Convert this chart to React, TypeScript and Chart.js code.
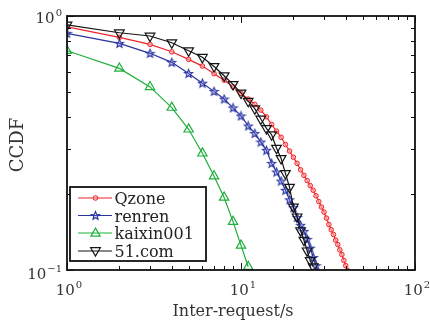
import React, { useEffect, useRef } from "react";
import { Chart, registerables } from "chart.js";

Chart.register(...registerables);

// ---- data ----
const seriesNames = ["Qzone", "renren", "kaixin001", "51.com"];

const qzoneX = [1, 2, 3, 4, 5, 6, 7, 8, 9, 10, 11, 12, 13, 14, 15, 16, 17, 18, 19, 20, 21, 22, 23, 24, 25, 26, 27, 28, 29, 30, 31, 32, 33, 34, 35, 36, 37, 38, 39, 40, 41];
const qzoneY = [0.907, 0.824, 0.773, 0.723, 0.675, 0.635, 0.593, 0.559, 0.526, 0.496, 0.471, 0.449, 0.426, 0.401, 0.374, 0.352, 0.333, 0.312, 0.294, 0.278, 0.263, 0.248, 0.236, 0.225, 0.215, 0.206, 0.196, 0.186, 0.177, 0.169, 0.160, 0.151, 0.144, 0.138, 0.131, 0.126, 0.120, 0.115, 0.109, 0.104, 0.0996];

const renrenX = [1, 2, 3, 4, 5, 6, 7, 8, 9, 10, 11, 12, 13, 14, 15, 16, 17, 18, 19, 20, 21, 22, 23, 24, 25, 26, 27, 28];
const renrenY = [0.855, 0.780, 0.713, 0.657, 0.594, 0.544, 0.505, 0.471, 0.435, 0.404, 0.369, 0.345, 0.319, 0.296, 0.263, 0.243, 0.224, 0.206, 0.189, 0.176, 0.161, 0.150, 0.142, 0.132, 0.122, 0.112, 0.104, 0.097];

const kaixinX = [1, 2, 3, 4, 5, 6, 7, 8, 9, 10, 11];
const kaixinY = [0.730, 0.622, 0.526, 0.436, 0.358, 0.288, 0.234, 0.193, 0.155, 0.125, 0.103];

const c51X = [1, 2, 3, 4, 5, 6, 7, 8, 9, 10, 11, 12, 13, 14, 15, 16, 17, 18, 19, 20, 21, 22, 23, 24, 25, 26];
const c51Y = [0.922, 0.859, 0.834, 0.785, 0.730, 0.688, 0.633, 0.582, 0.538, 0.498, 0.462, 0.432, 0.393, 0.361, 0.341, 0.302, 0.275, 0.240, 0.212, 0.177, 0.162, 0.143, 0.131, 0.119, 0.109, 0.103];

const xMajorTicks = [1, 10, 100];
const xMajorExp = ["0", "1", "2"];
const xMinorTicks = [2, 3, 4, 5, 6, 7, 8, 9, 20, 30, 40, 50, 60, 70, 80, 90];
const yMajorTicks = [0.1, 1];
const yMajorExp = ["\u22121", "0"];
const yMinorTicks = [0.2, 0.3, 0.4, 0.5, 0.6, 0.7, 0.8, 0.9];

const xTitle = "Inter-request/s";
const yTitle = "CCDF";

const RED = "rgb(240,35,40)";
const BLUE = "rgb(40,50,160)";
const GREEN = "rgb(30,175,60)";
const BLACK = "rgb(20,20,20)";

const FONT = "'DejaVu Serif', serif";

function makeStar(color: string): HTMLCanvasElement {
  const c = document.createElement("canvas");
  c.width = 11;
  c.height = 11;
  const g = c.getContext("2d")!;
  g.strokeStyle = color;
  g.fillStyle = "rgba(120,130,220,0.3)";
  g.lineWidth = 1.1;
  g.beginPath();
  for (let i = 0; i < 10; i++) {
    const r = i % 2 === 0 ? 4.3 : 1.9;
    const ang = -Math.PI / 2 + (i * Math.PI) / 5;
    const px = 5.5 + Math.cos(ang) * r;
    const py = 5.8 + Math.sin(ang) * r;
    if (i === 0) g.moveTo(px, py);
    else g.lineTo(px, py);
  }
  g.closePath();
  g.fill();
  g.stroke();
  return c;
}

function drawTri(ctx: CanvasRenderingContext2D, x: number, y: number, r: number, rot: number, color: string) {
  ctx.beginPath();
  for (let i = 0; i < 3; i++) {
    const a = rot + (i * 2 * Math.PI) / 3;
    const px = x + Math.sin(a) * r;
    const py = y - Math.cos(a) * r;
    if (i === 0) ctx.moveTo(px, py);
    else ctx.lineTo(px, py);
  }
  ctx.closePath();
  ctx.strokeStyle = color;
  ctx.lineWidth = 1.2;
  ctx.stroke();
}

function drawPow(ctx: CanvasRenderingContext2D, exp: string, x: number, y: number, align: "center" | "right") {
  ctx.font = `15px ${FONT}`;
  const wb = ctx.measureText("10").width;
  ctx.font = `10px ${FONT}`;
  const we = ctx.measureText(exp).width;
  const total = wb + 1 + we;
  const start = align === "center" ? x - total / 2 : x - total;
  ctx.textAlign = "left";
  ctx.textBaseline = "alphabetic";
  ctx.fillStyle = "#333";
  ctx.font = `15px ${FONT}`;
  ctx.fillText("10", start, y);
  ctx.font = `10px ${FONT}`;
  ctx.fillText(exp, start + wb + 1, y - 7);
}

export default function App() {
  const ref = useRef<HTMLCanvasElement | null>(null);

  useEffect(() => {
    if (!ref.current) return;
    const star = makeStar(BLUE);

    const overlay = {
      id: "matlabFrame",
      afterDatasetsDraw(chart: any) {
        const ctx: CanvasRenderingContext2D = chart.ctx;
        const a = chart.chartArea;
        const xs = chart.scales.x;
        const ys = chart.scales.y;
        ctx.save();
        ctx.strokeStyle = "#111";
        ctx.lineWidth = 1;
        const xt = (v: number, len: number) => {
          const px = Math.round(xs.getPixelForValue(v)) + 0.5;
          ctx.beginPath();
          ctx.moveTo(px, a.bottom);
          ctx.lineTo(px, a.bottom - len);
          ctx.moveTo(px, a.top);
          ctx.lineTo(px, a.top + len);
          ctx.stroke();
        };
        const yt = (v: number, len: number) => {
          const py = Math.round(ys.getPixelForValue(v)) + 0.5;
          ctx.beginPath();
          ctx.moveTo(a.left, py);
          ctx.lineTo(a.left + len, py);
          ctx.moveTo(a.right, py);
          ctx.lineTo(a.right - len, py);
          ctx.stroke();
        };
        xMinorTicks.forEach((v) => xt(v, 4));
        xMajorTicks.forEach((v) => xt(v, 7));
        yMinorTicks.forEach((v) => yt(v, 4));
        yMajorTicks.forEach((v) => yt(v, 7));

        // frame
        ctx.lineWidth = 1.8;
        ctx.strokeStyle = "#111";
        ctx.strokeRect(a.left, a.top, a.right - a.left, a.bottom - a.top);

        // tick labels
        xMajorTicks.forEach((v, i) => {
          drawPow(ctx, xMajorExp[i], xs.getPixelForValue(v) + 2, a.bottom + 25, "center");
        });
        yMajorTicks.forEach((v, i) => {
          const py = ys.getPixelForValue(v);
          drawPow(ctx, yMajorExp[i], a.left - 5, py + (i === 0 ? 9 : 7), "right");
        });

        // axis titles
        ctx.fillStyle = "#333";
        ctx.font = `16px ${FONT}`;
        ctx.textAlign = "center";
        ctx.textBaseline = "alphabetic";
        ctx.fillText(xTitle, 233, 316);
        ctx.save();
        ctx.translate(23, 145);
        ctx.rotate(-Math.PI / 2);
        ctx.font = `18px ${FONT}`;
        ctx.fillText(yTitle, 0, 0);
        ctx.restore();

        // legend
        const lx = 70, ly = 187, lw = 136, lh = 74;
        ctx.fillStyle = "#fff";
        ctx.fillRect(lx, ly, lw, lh);
        ctx.lineWidth = 1.8;
        ctx.strokeStyle = "#111";
        ctx.strokeRect(lx, ly, lw, lh);
        const rows = [198, 215.5, 233, 251];
        const colors = [RED, BLUE, GREEN, BLACK];
        rows.forEach((ry, i) => {
          ctx.strokeStyle = colors[i];
          ctx.lineWidth = 1.2;
          ctx.beginPath();
          ctx.moveTo(78, ry);
          ctx.lineTo(112, ry);
          ctx.stroke();
          const mx = 95.5;
          if (i === 0) {
            ctx.beginPath();
            ctx.arc(mx, ry, 2.3, 0, Math.PI * 2);
            ctx.fillStyle = "rgba(255,170,170,0.6)";
            ctx.fill();
            ctx.lineWidth = 1;
            ctx.stroke();
          } else if (i === 1) {
            ctx.drawImage(star, mx - 5.5, ry - 5.5);
          } else if (i === 2) {
            drawTri(ctx, mx, ry + 0.5, 5.4, 0, GREEN);
          } else {
            drawTri(ctx, mx, ry - 0.5, 5.6, Math.PI, BLACK);
          }
          ctx.fillStyle = "#222";
          ctx.font = `16px ${FONT}`;
          ctx.textAlign = "left";
          ctx.textBaseline = "alphabetic";
          ctx.fillText(seriesNames[i], 114.5, ry + 6);
        });
        ctx.restore();
      },
    };

    const mk = (xArr: number[], yArr: number[]) => xArr.map((x, i) => ({ x, y: yArr[i] }));

    const chart = new Chart(ref.current, {
      type: "line",
      data: {
        datasets: [
          {
            label: seriesNames[0],
            data: mk(qzoneX, qzoneY),
            borderColor: RED,
            backgroundColor: "rgba(255,170,170,0.6)",
            borderWidth: 1.2,
            pointStyle: "circle",
            pointRadius: 2.3,
            pointBorderWidth: 1,
            pointBorderColor: RED,
            pointBackgroundColor: "rgba(255,170,170,0.6)",
            order: 3,
          },
          {
            label: seriesNames[1],
            data: mk(renrenX, renrenY),
            borderColor: BLUE,
            backgroundColor: BLUE,
            borderWidth: 1.2,
            pointStyle: star as any,
            pointRadius: 5,
            order: 2,
          },
          {
            label: seriesNames[2],
            data: mk(kaixinX, kaixinY),
            borderColor: GREEN,
            backgroundColor: "rgba(0,0,0,0)",
            borderWidth: 1.2,
            pointStyle: "triangle",
            pointRadius: 5.4,
            pointBorderWidth: 1.2,
            pointBorderColor: GREEN,
            pointBackgroundColor: "rgba(0,0,0,0)",
            order: 1,
          },
          {
            label: seriesNames[3],
            data: mk(c51X, c51Y),
            borderColor: BLACK,
            backgroundColor: "rgba(0,0,0,0)",
            borderWidth: 1.2,
            pointStyle: "triangle",
            pointRotation: 180,
            pointRadius: 5.6,
            pointBorderWidth: 1.2,
            pointBorderColor: BLACK,
            pointBackgroundColor: "rgba(0,0,0,0)",
            order: 0,
          },
        ],
      },
      options: {
        responsive: false,
        animation: false,
        devicePixelRatio: 1,
        layout: { padding: { left: 67, top: 16, right: 15, bottom: 52 } },
        elements: { line: { tension: 0 } },
        scales: {
          x: { type: "logarithmic", min: 1, max: 100, display: false },
          y: { type: "logarithmic", min: 0.1, max: 1, display: false },
        },
        plugins: {
          legend: { display: false },
          tooltip: { enabled: false },
        },
      },
      plugins: [overlay],
    });

    return () => chart.destroy();
  }, []);

  return (
    <div style={{ position: "absolute", left: 0, top: 0, width: 430, height: 322, background: "#fff" }}>
      <canvas ref={ref} width={430} height={322} />
    </div>
  );
}
